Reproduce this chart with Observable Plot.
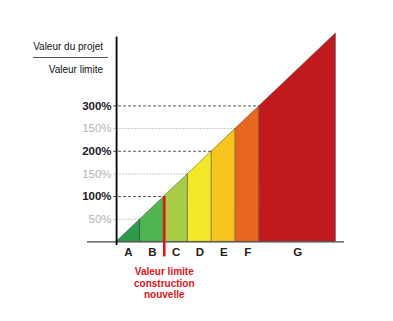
<!DOCTYPE html>
<html><head><meta charset="utf-8">
<script src="https://cdn.jsdelivr.net/npm/d3@7"></script>
<script src="https://cdn.jsdelivr.net/npm/@observablehq/plot@0.6"></script>
<style>body{margin:0;background:#fff}</style>
</head><body><div id="chart"></div>
<script>
// Energy-style classes: each band covers a range of project value / limit value (%)
const classes = ["A", "B", "C", "D", "E", "F", "G"];
const classStart = [0, 50, 100, 150, 200, 250, 300];
const classEnd = [50, 100, 150, 200, 250, 300, 460];
const classColors = ["#2f9a4c", "#4fb54f", "#a9cc47", "#f3e827", "#f7c51d", "#e8661f", "#c01a1f"];
const tickValues = [50, 100, 150, 200, 250, 300];
const tickLabels = ["50%", "100%", "150%", "200%", "150%", "300%"];
const newBuildLimit = 100;
const limitLabel = "Valeur limite\nconstruction\nnouvelle";
const axisTitleTop = "Valeur du projet";
const axisTitleBottom = "Valeur limite";

const FONT = "Liberation Sans, Arial, sans-serif";

// Each band is a trapezoid under the diagonal y = x
const bandPoints = classes.flatMap((c, i) => [
  {cls: c, x: classStart[i], y: classStart[i]},
  {cls: c, x: classEnd[i], y: classEnd[i]}
]);
const isMajor = v => v % 100 === 0;
const majorTicks = tickValues.filter(isMajor);
const minorTicks = tickValues.filter(v => !isMajor(v));
const tickLabel = d => tickLabels[tickValues.indexOf(d)];

const chart = Plot.plot({
  width: 393,
  height: 321,
  marginLeft: 87,
  marginRight: 49,
  marginTop: 32,
  marginBottom: 76,
  style: {fontFamily: FONT, background: "white"},
  x: {domain: [-61, 478], axis: null},
  y: {domain: [-8, 462], axis: null},
  color: {domain: classes, range: classColors},
  marks: [
    // guide lines from the axis to the diagonal
    Plot.ruleY(minorTicks, {y: d => d, x1: 0, x2: d => d, insetLeft: -3, stroke: "#c8c8c8", strokeDasharray: "2,1"}),
    Plot.ruleY(majorTicks, {y: d => d, x1: 0, x2: d => d, insetLeft: -3, stroke: "#555", strokeDasharray: "3,2"}),
    // colored class bands (no stacking: each band spans 0 → diagonal)
    Plot.areaY(bandPoints, {x: "x", y1: 0, y2: "y", fill: "cls", z: "cls", stroke: "#333", strokeOpacity: 0.55, strokeWidth: 0.8}),
    // baseline and vertical axis
    Plot.ruleY([0], {stroke: "#444", strokeWidth: 1.2}),
    Plot.ruleX([0], {y1: 452, y2: -8, stroke: "#000", strokeWidth: 1.8}),
    // y tick labels
    Plot.text(majorTicks, {
      x: 0, y: d => d, dx: -5, textAnchor: "end", text: tickLabel,
      fontSize: 11.5, fontWeight: "bold", fill: "#1c1c28"
    }),
    Plot.text(minorTicks, {
      x: 0, y: d => d, dx: -5, textAnchor: "end", text: tickLabel,
      fontSize: 11.5, fill: "#b4b4b4"
    }),
    // class letters
    Plot.text(classes, {
      x: (d, i) => (classStart[i] + classEnd[i]) / 2, y: 0, dy: 10.5,
      text: d => d, fontWeight: "bold", fontSize: 11.5, fill: "#222"
    }),
    // new-construction limit
    Plot.ruleX([newBuildLimit], {y1: d => d, y2: 0, stroke: "#e3121b", strokeWidth: 2.6, insetBottom: -15}),
    Plot.text([limitLabel], {
      x: newBuildLimit, y: 0, dy: 25, lineAnchor: "top", lineHeight: 1.15,
      text: d => d, fill: "#e3121b", fontWeight: "bold", fontSize: 10
    }),
    // fraction-style axis title
    () => {
      const g = d3.create("svg:g").attr("font-family", FONT).attr("font-size", 10).attr("fill", "#111");
      g.append("text").attr("x", 103).attr("y", 50.3).attr("text-anchor", "end").text(axisTitleTop);
      g.append("line").attr("x1", 33).attr("x2", 108).attr("y1", 57.5).attr("y2", 57.5)
        .attr("stroke", "#555").attr("stroke-width", 1.2);
      g.append("text").attr("x", 103).attr("y", 72.6).attr("text-anchor", "end").text(axisTitleBottom);
      return g.node();
    }
  ]
});
document.getElementById("chart").append(chart);
</script>
</body></html>
